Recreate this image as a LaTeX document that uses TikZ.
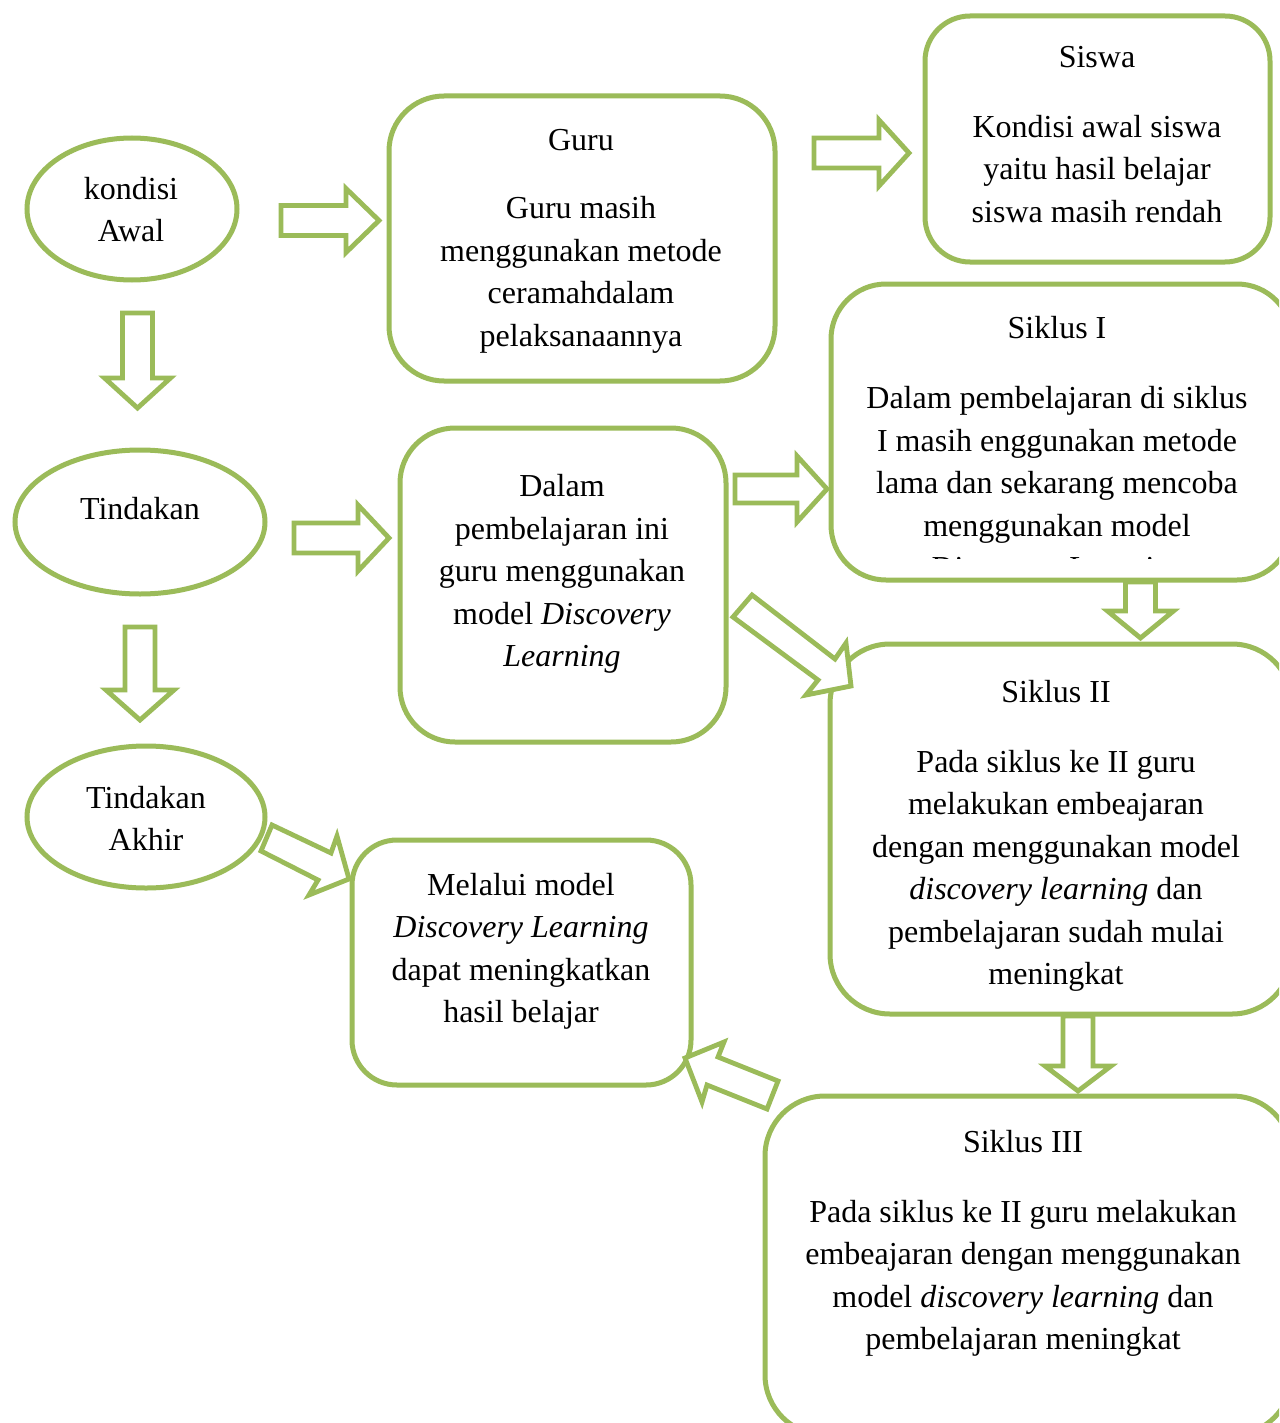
\documentclass[tikz,border=0pt]{standalone}
\usepackage{fontspec}
\setmainfont{Liberation Serif}
\usetikzlibrary{shapes.geometric}
\definecolor{olv}{HTML}{9BBB59}
\tikzset{
  every node/.style={font=\fontsize{32}{42.5}\selectfont, text=black},
  txt/.style={align=center, inner sep=0pt},
  boxnode/.style={draw=olv, line width=5pt, rectangle, rounded corners=#1, inner sep=0pt, fill=white},
  ellnode/.style={draw=olv, line width=5pt, ellipse, inner sep=0pt, fill=white},
  barrow/.style={draw=olv, line width=4.8pt, fill=white, line join=miter}
}
\newcommand\rarr[6]{\draw[barrow] (#1,#4-#5) -- (#2,#4-#5) -- (#2,#4-#6) -- (#3,#4) -- (#2,#4+#6) -- (#2,#4+#5) -- (#1,#4+#5) -- cycle;}
\newcommand\darr[6]{\draw[barrow] (#4-#5,#1) -- (#4-#5,#2) -- (#4-#6,#2) -- (#4,#3) -- (#4+#6,#2) -- (#4+#5,#2) -- (#4+#5,#1) -- cycle;}
\begin{document}
\begin{tikzpicture}[x=1pt,y=-1pt]
\useasboundingbox (0,0) rectangle (1279,1423);
\clip (0,0) rectangle (1279,1423);
\fill[white] (0,0) rectangle (1279,1423);

% ellipses
\node[ellnode, minimum width=210pt, minimum height=142pt] (awal) at (132,209) {};
\node[ellnode, minimum width=250pt, minimum height=144pt] (tind) at (140,522) {};
\node[ellnode, minimum width=238pt, minimum height=142pt] (akhir) at (146,817) {};

% boxes
\node[boxnode=55pt, minimum width=386pt, minimum height=285pt] (guru) at (582,238.5) {};
\node[boxnode=45pt, minimum width=345pt, minimum height=246pt] (siswa) at (1097.5,139) {};
\node[boxnode=55pt, minimum width=461pt, minimum height=296pt] (s1) at (1061.5,432) {};
\node[boxnode=55pt, minimum width=326pt, minimum height=314pt] (dalam) at (563,585) {};
\node[boxnode=60pt, minimum width=462pt, minimum height=370pt] (s2) at (1061,829) {};
\node[boxnode=45pt, minimum width=339pt, minimum height=245pt] (melalui) at (521.5,962.5) {};
\node[boxnode=60pt, minimum width=527pt, minimum height=339pt] (s3) at (1028.5,1265.5) {};

% texts
\node[txt] (tAwal) at (131,209.5) {kondisi\\Awal};
\node[txt] (tTind) at (140,509) {Tindakan};
\node[txt] (tAkhir) at (146,818.5) {Tindakan\\Akhir};

\node[txt] (tGuruH) at (581,140) {Guru};
\node[txt] (tGuru) at (581,275) {Guru masih\\menggunakan metode\\ceramahdalam\\pelaksanaannya};

\node[txt] (tSiswaH) at (1097,57) {Siswa};
\node[txt] (tSiswa) at (1097,169) {Kondisi awal siswa\\yaitu hasil belajar\\siswa masih rendah};

\node[txt] (tS1H) at (1057,328) {Siklus I};
\begin{scope}
\clip (831,284) rectangle (1292,558);
\node[txt] (tS1) at (1057,486) {Dalam pembelajaran di siklus\\I masih enggunakan metode\\lama dan sekarang mencoba\\menggunakan model\\\textit{Discovery Learning}};
\end{scope}

\node[txt] (tDalam) at (562,574) {Dalam\\pembelajaran ini\\guru menggunakan\\model \textit{Discovery}\\\textit{Learning}};

\node[txt] (tS2H) at (1056,692) {Siklus II};
\node[txt] (tS2) at (1056,871) {Pada siklus ke II guru\\melakukan embeajaran\\dengan menggunakan model\\\textit{discovery learning} dan\\pembelajaran sudah mulai\\meningkat};

\node[txt] (tMel) at (521,951.5) {Melalui model\\\textit{Discovery Learning}\\dapat meningkatkan\\hasil belajar};

\node[txt] (tS3H) at (1023,1142) {Siklus III};
\node[txt] (tS3) at (1023,1278.5) {Pada siklus ke II guru melakukan\\embeajaran dengan menggunakan\\model \textit{discovery learning} dan\\pembelajaran meningkat};

% block arrows
\rarr{281}{346}{379}{220.5}{15}{32}
\rarr{814}{879}{909}{153}{15}{33}
\rarr{294}{358}{389}{538}{15}{33}
\rarr{735}{797}{827}{489}{14}{33}
\darr{313}{378}{408}{137.5}{15}{33}
\darr{627}{690}{720}{140}{15}{34}
\darr{582}{611}{638}{1140.5}{15}{33}
\darr{1016}{1066}{1091}{1078}{15}{33}
\draw[barrow] (752,595) -- (835,659) -- (846,643) -- (851,686) -- (806,695) -- (818,680) -- (733,617) -- cycle;
\draw[barrow] (272,825) -- (331,853) -- (337,836) -- (349,879) -- (309,895) -- (318,880) -- (261,851) -- cycle;
\draw[barrow] (778,1081) -- (718,1057) -- (724,1042) -- (685,1058) -- (702,1102) -- (707,1085) -- (767,1109) -- cycle;
\end{tikzpicture}
\end{document}
